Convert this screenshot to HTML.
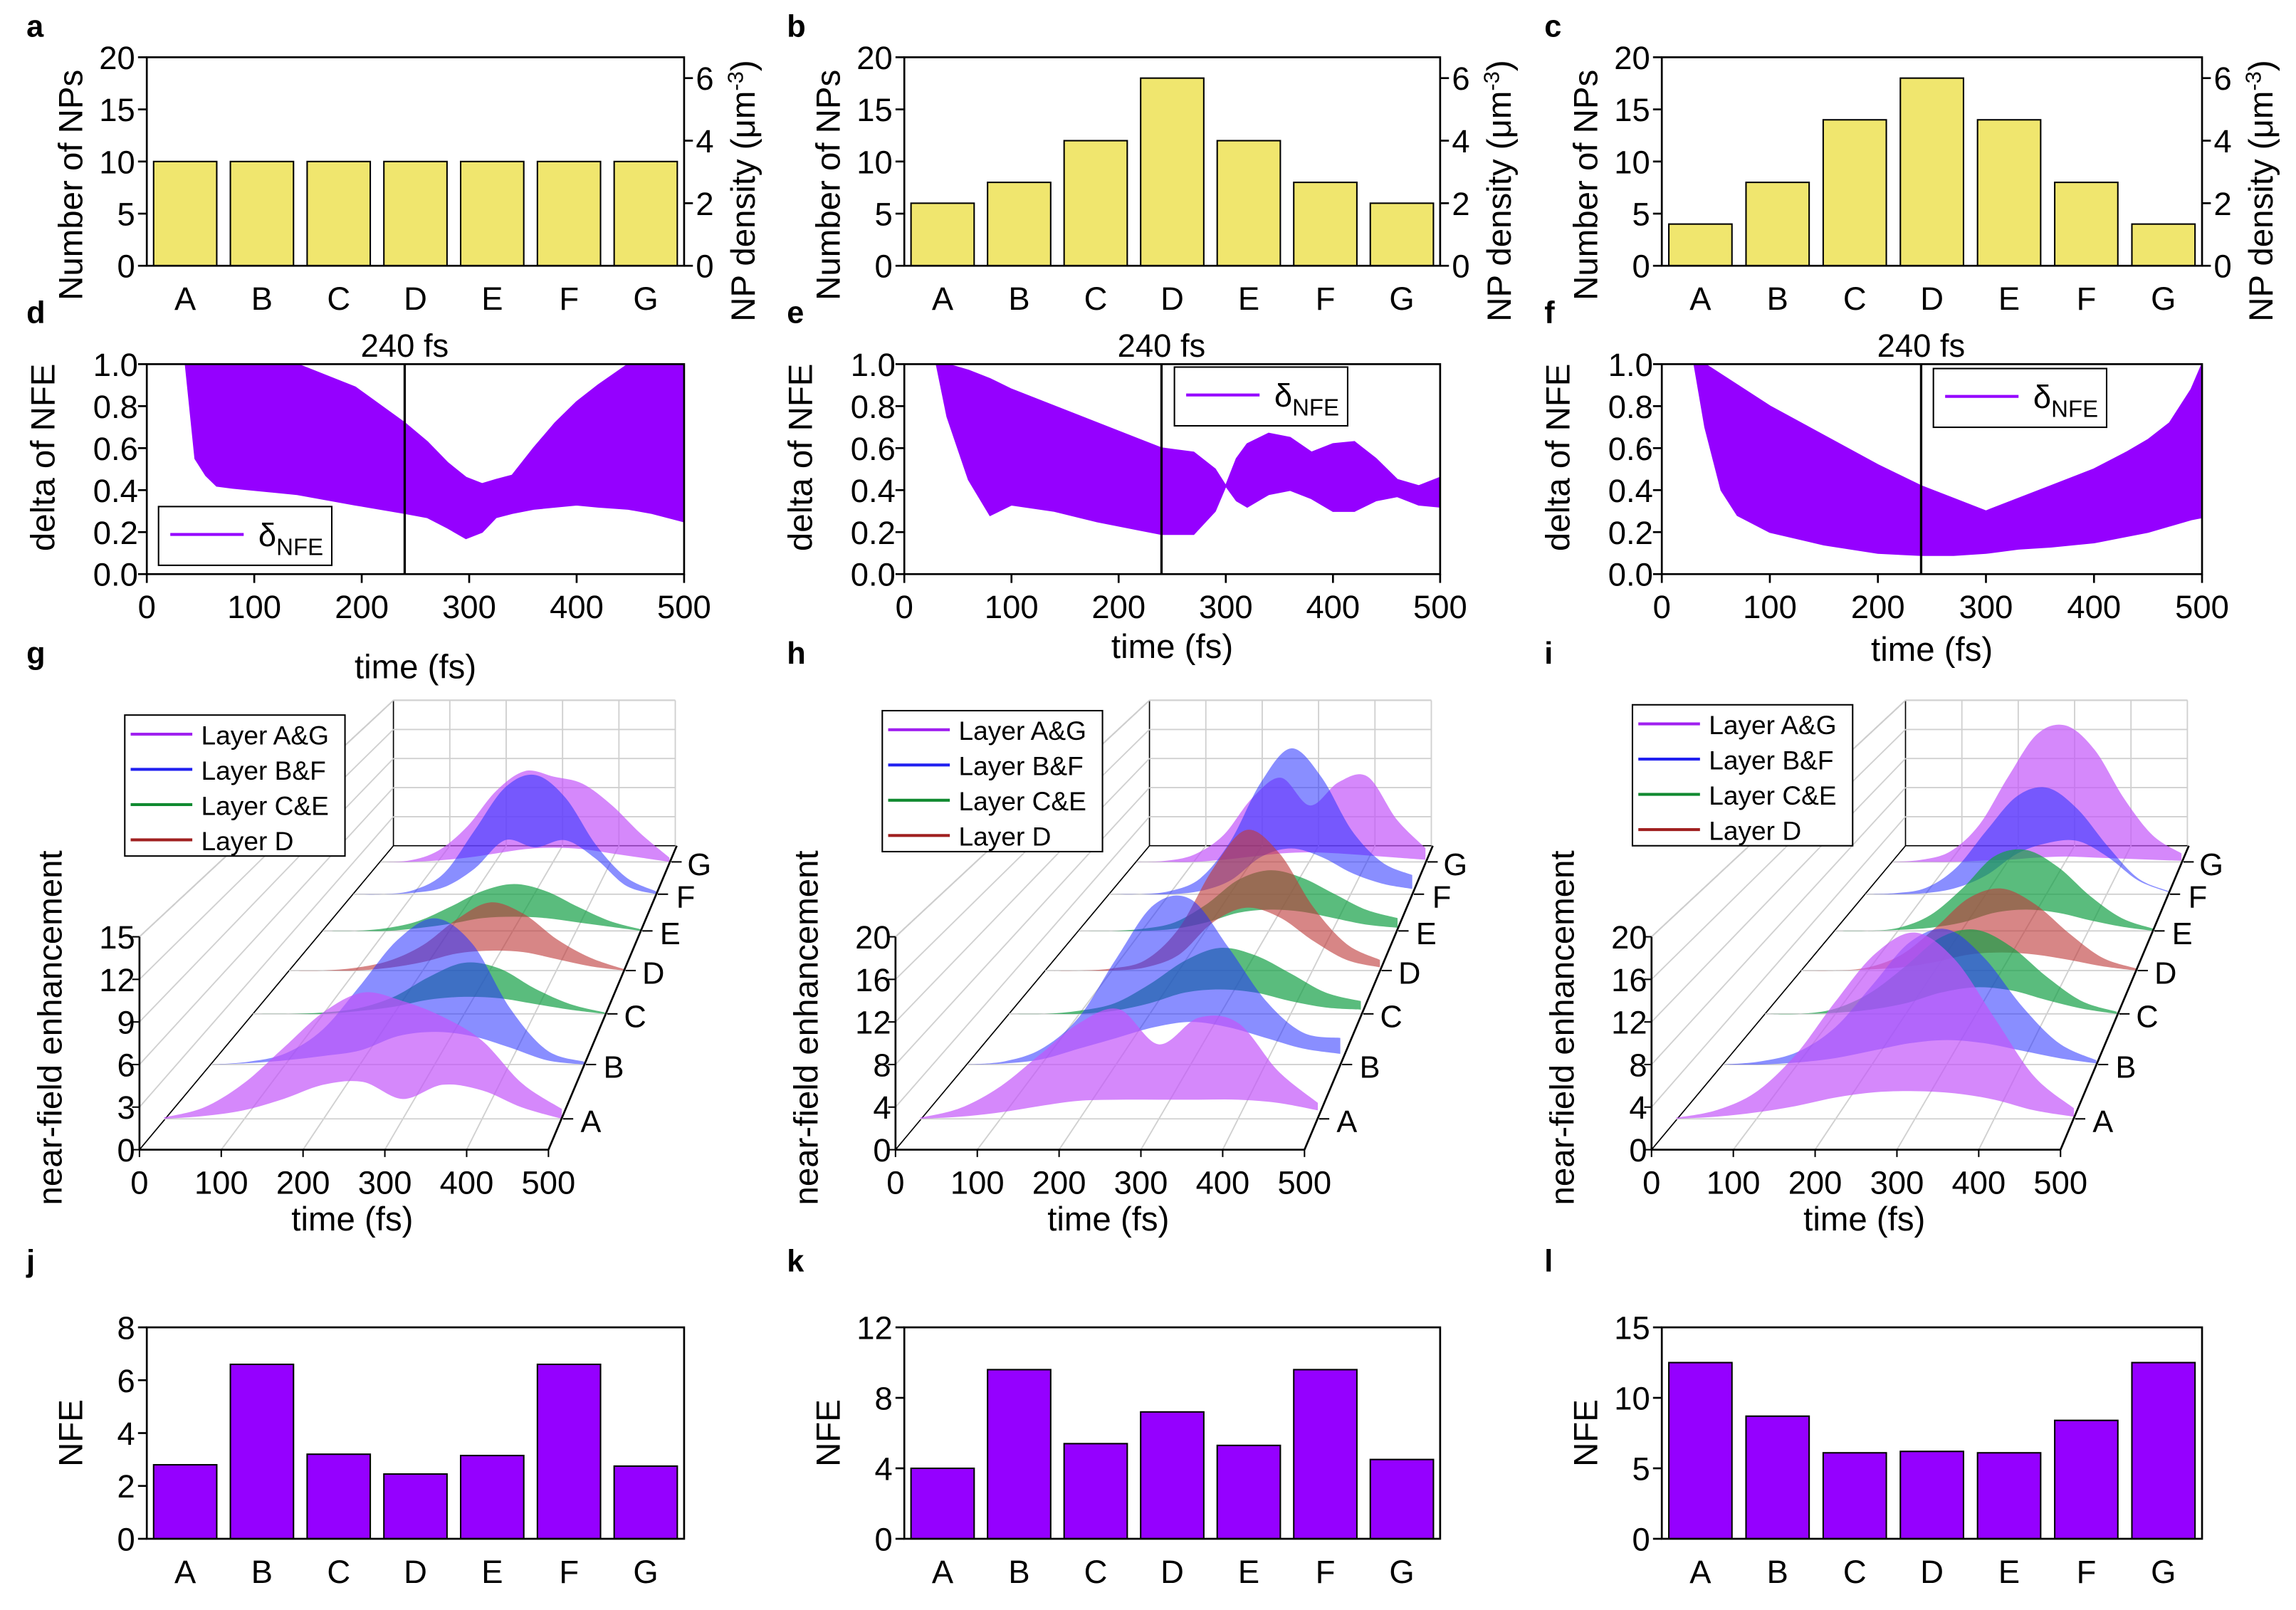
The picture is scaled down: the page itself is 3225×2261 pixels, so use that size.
<!DOCTYPE html>
<html><head><meta charset="utf-8"><style>
html,body{margin:0;padding:0;background:#fff}
svg{display:block;font-family:"Liberation Sans",sans-serif}
</style></head><body>
<svg id="fig" xmlns="http://www.w3.org/2000/svg" width="3225" height="2261" viewBox="0 0 1564 1096.5" preserveAspectRatio="none"></svg>
<script>
// ---------- data ----------
const cats = ["A","B","C","D","E","F","G"];
const npA = [10,10,10,10,10,10,10];
const npB = [6,8,12,18,12,8,6];
const npC = [4,8,14,18,14,8,4];
const nfeJ = [2.8,6.6,3.2,2.45,3.15,6.6,2.75];
const nfeK = [4.0,9.6,5.4,7.2,5.3,9.6,4.5];
const nfeL = [12.5,8.7,6.1,6.2,6.1,8.4,12.5];
const ticksJ = [0,2,4,6,8];
const ticksK = [0,4,8,12];
const ticksL = [0,5,10,15];
const ticksNP = [0,5,10,15,20];
const ticksDens = [0,2,4,6];
const ticksDelta = [0,0.2,0.4,0.6,0.8,1.0];
const ticksTime = [0,100,200,300,400,500];
const tD = [36,45,55,65,80,140,194,240,261,280,297,312,325,340,360,380,400,420,448,470,500];
const upD = [1,1,1,1,1,1,0.89,0.72,0.63,0.53,0.46,0.43,0.45,0.47,0.6,0.72,0.82,0.9,1,1,1];
const loD = [1,0.55,0.47,0.42,0.41,0.38,0.33,0.29,0.27,0.22,0.17,0.2,0.27,0.29,0.31,0.32,0.33,0.32,0.31,0.29,0.25];
const tE = [30,40,60,80,100,140,180,220,240,270,290,300,310,320,340,360,380,400,420,440,460,480,500];
const upE = [1,1,0.97,0.93,0.88,0.8,0.72,0.64,0.6,0.58,0.5,0.42,0.55,0.62,0.67,0.65,0.58,0.62,0.63,0.55,0.45,0.42,0.46];
const loE = [1,0.75,0.45,0.28,0.33,0.3,0.25,0.21,0.19,0.19,0.3,0.42,0.35,0.32,0.38,0.4,0.36,0.3,0.3,0.35,0.37,0.33,0.32];
const tF = [30,40,55,70,100,150,200,240,270,300,330,360,400,430,450,470,490,500];
const upF = [1,1,0.95,0.9,0.8,0.66,0.52,0.42,0.36,0.3,0.36,0.42,0.5,0.58,0.64,0.72,0.88,1];
const loF = [1,0.7,0.4,0.28,0.2,0.14,0.1,0.09,0.09,0.1,0.12,0.13,0.15,0.18,0.2,0.23,0.26,0.27];
const tW = [0,50,100,150,200,250,300,350,400,450,500];
const gUpper = [
 [0.1,0.8,2.5,5,7.5,8.9,8.3,7.2,5.5,2.5,0.7],
 [0,0.2,0.8,2.5,5.6,8.8,10.3,8.5,4,1,0.2],
 [0,0,0.1,0.4,1.2,2.6,3.6,3.2,1.8,0.7,0.1],
 [0,0,0.2,0.7,1.8,3.6,4.8,4,2.2,0.9,0.1],
 [0,0,0.2,0.7,1.7,2.8,3.3,2.8,1.7,0.7,0.1],
 [0,0,0.3,1.5,4.5,7.5,8.4,6.8,3.5,1.2,0.2],
 [0,0.1,0.8,2.5,5,6.4,6,5.5,4,2,0.3]];
const gLower = [
 [0,0.2,0.6,1.4,2.4,2.6,1.4,2.4,2,0.8,0],
 [0,0.1,0.3,0.6,1,2,2.3,2,1.2,0.3,0],
 [0,0,0,0.2,0.5,1,1.2,1.1,0.7,0.3,0],
 [0,0,0,0.2,0.6,1.2,1.4,1.3,0.8,0.3,0],
 [0,0,0,0.2,0.5,0.9,1,0.9,0.6,0.3,0],
 [0,0,0.1,0.5,1.8,3.8,3.3,3.8,2.5,0.6,0],
 [0,0,0.1,0.3,0.6,0.9,1,0.9,0.6,0.3,0]];
const hUpper = [
 [0.1,1,3,6,9,10.3,7,9.5,9,4.5,1.5],
 [0,0.3,1.5,4.5,10,15,15.5,11,6,3,2.5],
 [0,0,0.3,1,2.8,5,6.2,5.5,3.8,2,1.2],
 [0,0,0.2,1,4,9.5,13.2,11,6,2.5,1],
 [0,0,0.2,0.8,2.5,4.8,5.7,5,3.5,2,1.2],
 [0,0,0.3,1.5,5,10.5,13.7,11,6,3,1.8],
 [0,0.1,0.7,2.5,6,7.9,5.3,7.5,8,4,1.3]];
const hLower = [
 [0,0.2,0.6,1.2,1.7,1.8,1.8,1.8,1.8,1.5,0.8],
 [0,0.1,0.5,1.5,2.5,3.5,4,3.5,2.5,1.5,1],
 [0,0,0,0.3,1,2,2.3,2,1.2,0.6,0.4],
 [0,0,0,0.3,1.5,4.5,5.9,5,2.8,1,0.3],
 [0,0,0,0.2,0.8,1.7,2,1.8,1.2,0.6,0.3],
 [0,0,0,0.3,1.3,3.5,4.3,3.5,2,1,0.5],
 [0,0,0,0.2,0.5,0.8,0.9,0.8,0.6,0.4,0.2]];
const iUpper = [
 [0.1,0.8,2.5,6,11,15.5,17.5,15,9.5,4,1],
 [0,0.3,1.2,3.5,7.5,11.5,12.7,10,5.5,2,0.4],
 [0,0,0.5,2,4.5,7.2,7.9,6.3,3.5,1.2,0.2],
 [0,0,0.3,1.5,4,6.8,7.7,6.2,3.5,1.2,0.2],
 [0,0,0.3,1.5,4,7,7.6,6,3.3,1.2,0.2],
 [0,0.1,0.6,2.5,6,9.2,10,8,4.5,1.5,0.3],
 [0,0.2,1,3.5,8,12,12.8,10.5,6,2.5,0.8]];
const iLower = [
 [0,0.2,0.6,1.2,2,2.5,2.6,2.4,1.8,0.8,0.2],
 [0,0,0.2,0.6,1.3,2,2.3,2,1.3,0.6,0.1],
 [0,0,0.1,0.4,1,2,2.5,2.2,1.3,0.5,0],
 [0,0,0.1,0.3,0.8,1.5,1.7,1.5,1,0.4,0],
 [0,0,0.1,0.3,0.8,1.7,2,1.7,1,0.4,0],
 [0,0,0.1,0.6,1.8,3.8,4.8,5,3.5,1.3,0.2],
 [0,0,0,0.1,0.2,0.4,0.5,0.4,0.3,0.2,0.1]];
const ticksZg = [0,3,6,9,12,15];
const ticksZh = [0,4,8,12,16,20];

// ---------- helpers ----------
const NS="http://www.w3.org/2000/svg";
const svg=document.getElementById('fig');
function mk(tag,attrs,parent){const e=document.createElementNS(NS,tag);for(const k in attrs)e.setAttribute(k,attrs[k]);(parent||svg).appendChild(e);return e;}
function txt(s,x,y,size,anchor,parent,extra){const e=mk('text',Object.assign({x:x,y:y,'font-size':size,'text-anchor':anchor||'middle',fill:'#000'},extra||{}),parent);e.textContent=s;return e;}
function smooth(pts){let d='';for(let i=0;i<pts.length-1;i++){const p0=pts[Math.max(0,i-1)],p1=pts[i],p2=pts[i+1],p3=pts[Math.min(pts.length-1,i+2)];
 const c1=[p1[0]+(p2[0]-p0[0])/6,p1[1]+(p2[1]-p0[1])/6],c2=[p2[0]-(p3[0]-p1[0])/6,p2[1]-(p3[1]-p1[1])/6];
 d+=`C${c1[0]},${c1[1]} ${c2[0]},${c2[1]} ${p2[0]},${p2[1]}`;}return d;}
const YEL='#f0e66e', PUR='#9500ff';
const FONT=22;

function panelLetter(s,x,y){const t=txt(s,x,y,21,'start',svg,{'font-weight':'bold'});

}

function barChart(id,x0,x1,y0,y1,vals,ymax,ticks,color,ytitle,right){
 const g=mk('g',{});
 
 
 const sy=v=>y1-(v/ymax)*(y1-y0);
 const cw=(x1-x0)/vals.length;
 vals.forEach((v,i)=>{const b=mk('rect',{x:x0+cw*i+(cw-43)/2,y:sy(v),width:43,height:y1-sy(v),fill:color,stroke:'#000','stroke-width':1},g);
  
  
  const l=txt(cats[i],x0+cw*i+cw/2,y1+30,FONT,'middle',g);
  
  });
 mk('rect',{x:x0,y:y0,width:x1-x0,height:y1-y0,fill:'none',stroke:'#000','stroke-width':1.3},g);
 ticks.forEach(t=>{const y=sy(t);mk('line',{x1:x0-6,x2:x0,y1:y,y2:y,stroke:'#000','stroke-width':1.3},g);
  const l=txt(String(t),x0-8,y+8,FONT,'end',g);
  
  });
 const yt=txt(ytitle,0,0,FONT+1,'middle',g,{transform:`translate(${x0-44},${(y0+y1)/2+(right?16:0)}) rotate(-90)`});
 
 
 if(right){
  const ds=v=>y1-(v*3/ymax)*(y1-y0);
  ticksDens.forEach(t=>{const y=ds(t);mk('line',{x1:x1,x2:x1+6,y1:y,y2:y,stroke:'#000','stroke-width':1.3},g);
   const l=txt(String(t),x1+8,y+8,FONT,'start',g);
   
   });
  const rt=mk('text',{'font-size':FONT+1,'text-anchor':'middle',transform:`translate(${x1+48},${(y0+y1)/2+20}) rotate(-90)`},g);
  rt.innerHTML='NP density (μm<tspan dy="-8" font-size="15">-3</tspan><tspan dy="8">)</tspan>';
  
  
 }
}

function deltaChart(id,x0,x1,y0,y1,ts,up,lo,legX,legY,titleY){
 const g=mk('g',{});
 
 
 const sx=t=>x0+t/500*(x1-x0), sy=v=>y1-v*(y1-y0);
 let d='M'+ts.map((t,i)=>sx(t)+','+sy(up[i])).join('L');
 for(let i=ts.length-1;i>=0;i--)d+='L'+sx(ts[i])+','+sy(lo[i]);
 const band=mk('path',{d:d+'Z',fill:PUR,stroke:PUR,'stroke-width':1},g);
 
 
 mk('rect',{x:x0,y:y0,width:x1-x0,height:y1-y0,fill:'none',stroke:'#000','stroke-width':1.3},g);
 const vl=mk('line',{x1:sx(240),x2:sx(240),y1:y0,y2:y1,stroke:'#000','stroke-width':1.6},g);
 
 
 const ml=txt('240 fs',sx(240),y0-5,FONT,'middle',g);
 
 
 ticksDelta.forEach(t=>{const y=sy(t);mk('line',{x1:x0-6,x2:x0,y1:y,y2:y,stroke:'#000','stroke-width':1.3},g);
  const l=txt(t.toFixed(1),x0-6,y+8,FONT,'end',g);
  
  });
 ticksTime.forEach(t=>{const x=sx(t);mk('line',{x1:x,x2:x,y1:y1,y2:y1+6,stroke:'#000','stroke-width':1.3},g);
  const l=txt(String(t),x,y1+30,FONT,'middle',g);
  
  });
 const xt=txt('time (fs)',(x0+x1)/2,titleY,FONT+1,'middle',g);
 
 
 const yt=txt('delta of NFE',0,0,FONT+1,'middle',g,{transform:`translate(${x0-63},${(y0+y1)/2-8}) rotate(-90)`});
 
 
 const lg=mk('g',{},g);
 
 
 mk('rect',{x:legX,y:legY,width:118,height:40,fill:'#fff',stroke:'#000','stroke-width':1},lg);
 mk('line',{x1:legX+8,x2:legX+58,y1:legY+19,y2:legY+19,stroke:PUR,'stroke-width':2},lg);
 const lt=mk('text',{x:legX+68,y:legY+27,'font-size':FONT},lg);
 lt.innerHTML='δ<tspan dy="6" font-size="16">NFE</tspan>';
}

const LCOL=['rgba(195,85,250,0.7)','rgba(40,50,255,0.55)','rgba(20,160,70,0.7)','rgba(190,60,60,0.62)','rgba(20,160,70,0.7)','rgba(40,50,255,0.55)','rgba(195,85,250,0.7)'];
// per-layer projection geometry (screen offsets relative to panel origin)
const LBASE=[762,725,690.5,661,634,609,587];
const LSTART=[11.8,44,72.4,97,120,140.8,159.3];
const LEND=[282.7,298,312,325,337,347,356];
function waterfall(id,ox,upper,lower,zmax,zticks,legX,legY){
 const g=mk('g',{});
 
 
 const vs=145/zmax;
 const P=(k,t,v)=>[ox+LSTART[k]+t*(LEND[k]-LSTART[k])/500, LBASE[k]-v*vs];
 const zx=ox-5, zTop=638, zBot=783, bx0=ox+168, bx1=ox+360, bTop=477, bBot=576, fr=ox+273.6;
 const gl={stroke:'#d0d0d0','stroke-width':0.9,fill:'none'};
 mk('line',Object.assign({x1:zx,y1:zTop,x2:bx0,y2:bTop},{stroke:'#000','stroke-width':0.8}),g);
 mk('line',Object.assign({x1:bx0,y1:bTop,x2:bx1,y2:bTop},{stroke:'#000','stroke-width':0.8}),g);
 mk('line',Object.assign({x1:bx1,y1:bTop,x2:bx1,y2:bBot},gl),g);
 mk('line',Object.assign({x1:bx0,y1:bTop,x2:bx0,y2:bBot},{stroke:'#000','stroke-width':0.8}),g);
 mk('line',Object.assign({x1:bx0,y1:bBot,x2:bx1,y2:bBot},{stroke:'#000','stroke-width':0.8}),g);
 mk('line',Object.assign({x1:zx,y1:zBot,x2:bx0,y2:bBot},{stroke:'#000','stroke-width':0.8}),g);
 zticks.forEach((z,i)=>{if(i===0)return;const y=zBot-(z/zmax)*(zBot-zTop);const yb=bBot-(z/zmax)*(bBot-bTop);
  mk('line',Object.assign({x1:zx,y1:y,x2:bx0,y2:yb},gl),g);
  mk('line',Object.assign({x1:bx0,y1:yb,x2:bx1,y2:yb},gl),g);});
 [100,200,300,400].forEach(t=>{const x=zx+t/500*(fr-zx);const xb=bx0+t/500*(bx1-bx0);
  mk('line',Object.assign({x1:x,y1:zBot,x2:xb,y2:bBot},gl),g);
  mk('line',Object.assign({x1:xb,y1:bBot,x2:xb,y2:bTop},gl),g);});
 for(let k=0;k<7;k++){const s=P(k,0,0),e=P(k,500,0);mk('line',Object.assign({x1:s[0],y1:s[1],x2:e[0],y2:e[1]},gl),g);}
 for(let k=6;k>=0;k--){
  const up=tW.map((t,i)=>P(k,t,upper[k][i]));
  const lo=tW.map((t,i)=>P(k,t,lower[k][i])).reverse();
  const d='M'+up[0].join(',')+smooth(up)+'L'+lo[0].join(',')+smooth(lo)+'Z';
  const p=mk('path',{d:d,fill:LCOL[k],stroke:'none'},g);
  
  
  const e=P(k,500,0);
  const ax=fr+87.4*((zBot-e[1])/(zBot-bBot))+6;
  const l=txt(cats[k],ax+14,e[1]+9,FONT-1,'middle',g);
  
  
  mk('line',{x1:ax-5,y1:e[1],x2:ax+2,y2:e[1],stroke:'#000'},g);
 }
 mk('line',{x1:zx,y1:zTop,x2:zx,y2:zBot,stroke:'#000','stroke-width':1.3},g);
 zticks.forEach(z=>{const y=zBot-(z/zmax)*(zBot-zTop);mk('line',{x1:zx-5,x2:zx,y1:y,y2:y,stroke:'#000'},g);
  const l=txt(String(z),zx-3,y+8,FONT,'end',g);
  
  });
 mk('line',{x1:zx,y1:zBot,x2:fr,y2:zBot,stroke:'#000','stroke-width':1.3},g);
 mk('line',{x1:fr,y1:zBot,x2:ox+361,y2:bBot,stroke:'#000','stroke-width':1.3},g);
 ticksTime.forEach(t=>{const x=zx+t/500*(fr-zx);
  mk('line',{x1:x,x2:x,y1:zBot,y2:zBot+5,stroke:'#000'},g);
  const l=txt(String(t),x,zBot+30,FONT,'middle',g);
  
  });
 const xt=txt('time (fs)',ox+140,838,FONT+1,'middle',g);
 
 
 const yt=txt('near-field enhancement',0,0,FONT+1,'middle',g,{transform:`translate(${ox-58},${700}) rotate(-90)`});
 
 
 const lg=mk('g',{},g);
 
 
 mk('rect',{x:legX,y:legY,width:150,height:96,fill:'#fff',stroke:'#000','stroke-width':1},lg);
 const names=['Layer A&G','Layer B&F','Layer C&E','Layer D'];
 const lc=['#a020f0','#2020f0','#108a30','#a02020'];
 names.forEach((n,i)=>{const y=legY+13+i*24;
  mk('line',{x1:legX+4,x2:legX+46,y1:y,y2:y,stroke:lc[i],'stroke-width':2},lg);
  txt(n,legX+52,y+7,18,'start',lg);});
}

// ---------- build ----------
[['a',18,25],['b',536,25],['c',1052,25],['d',18,220],['e',536,220],['f',1052,220],['g',18,452],['h',536,452],['i',1052,452],['j',18,866],['k',536,866],['l',1052,866]].forEach(a=>panelLetter(...a));

barChart('a',100,466,39,181,npA,20,ticksNP,YEL,'Number of NPs',true);
barChart('b',616,981,39,181,npB,20,ticksNP,YEL,'Number of NPs',true);
barChart('c',1132,1500,39,181,npC,20,ticksNP,YEL,'Number of NPs',true);

deltaChart('d',100,466,248,391,tD,upD,loD,108,345,462);
deltaChart('e',616,981,248,391,tE,upE,loE,800,250,448);
deltaChart('f',1132,1500,248,391,tF,upF,loF,1317,251,450);

waterfall('g',100,gUpper,gLower,15,ticksZg,85,487);
waterfall('h',615,hUpper,hLower,20,ticksZh,601,484);
waterfall('i',1130,iUpper,iLower,20,ticksZh,1112,480);

barChart('j',100,466,904,1048,nfeJ,8,ticksJ,PUR,'NFE',false);
barChart('k',616,981,904,1048,nfeK,12,ticksK,PUR,'NFE',false);
barChart('l',1132,1500,904,1048,nfeL,15,ticksL,PUR,'NFE',false);
</script>
</body></html>
